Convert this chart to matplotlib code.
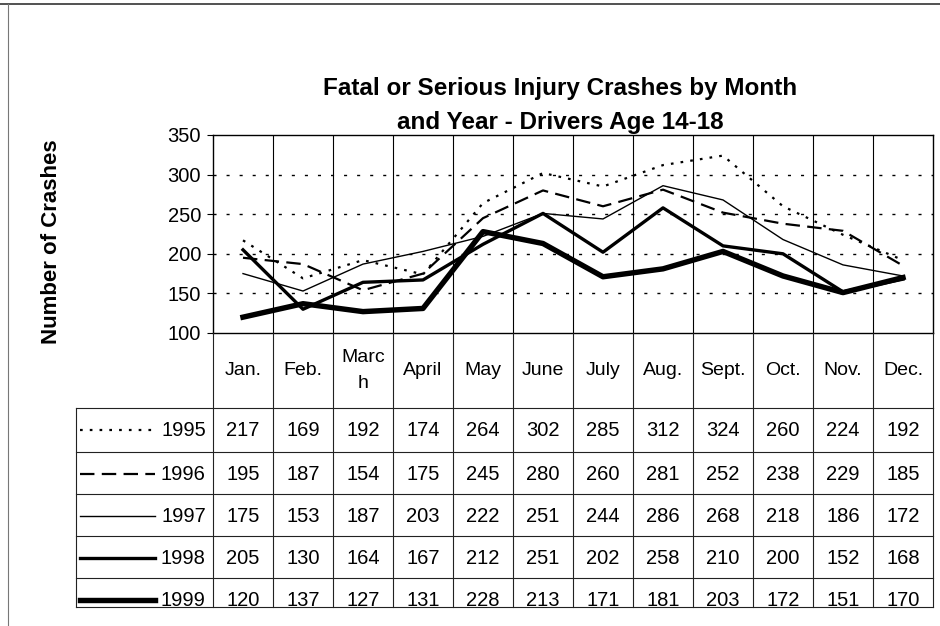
import matplotlib
matplotlib.use("Agg")
import matplotlib.pyplot as plt
from matplotlib.lines import Line2D

plt.rcParams['font.family'] = ['Liberation Sans', 'DejaVu Sans']

months = ['Jan.', 'Feb.', 'Marc\nh', 'April', 'May', 'June', 'July', 'Aug.',
          'Sept.', 'Oct.', 'Nov.', 'Dec.']
years = ['1995', '1996', '1997', '1998', '1999']
y1995 = [217, 169, 192, 174, 264, 302, 285, 312, 324, 260, 224, 192]
y1996 = [195, 187, 154, 175, 245, 280, 260, 281, 252, 238, 229, 185]
y1997 = [175, 153, 187, 203, 222, 251, 244, 286, 268, 218, 186, 172]
y1998 = [205, 130, 164, 167, 212, 251, 202, 258, 210, 200, 152, 168]
y1999 = [120, 137, 127, 131, 228, 213, 171, 181, 203, 172, 151, 170]
series = [y1995, y1996, y1997, y1998, y1999]
yticks = [100, 150, 200, 250, 300, 350]

# line styles per year
styles = [
    dict(lw=1.6, ls=(0, (1.2, 3.2))),
    dict(lw=1.6, ls=(0, (6.5, 3.3))),
    dict(lw=1.0, ls='-'),
    dict(lw=2.4, ls='-'),
    dict(lw=3.9, ls='-'),
]

W, H = 940, 626
fig = plt.figure(figsize=(W / 100, H / 100), dpi=100)


def box(x0, y0, x1, y1):
    # pixel box (top-left origin) -> figure fraction rect
    return [x0 / W, 1 - y1 / H, (x1 - x0) / W, (y1 - y0) / H]


n = len(months)
xs = [i + 0.5 for i in range(n)]

# ---- line chart ----
ax = fig.add_axes(box(213, 135, 933, 333))
ax.set_xlim(0, n)
ax.set_ylim(100, 350)
for i in range(1, n):
    ax.axvline(i, color='black', lw=0.8, zorder=1)
for v in yticks[1:-1]:
    ax.axhline(v, color='black', lw=1.0, ls=(0, (2.2, 7.2)), zorder=1)
for vals, st in zip(series, styles):
    ax.plot(xs, vals, color='black', lw=st['lw'], ls=st['ls'],
            solid_joinstyle='round', zorder=3)
ax.set_xticks([])
ax.set_yticks(yticks)
ax.tick_params(axis='y', direction='out', length=4.5, width=0.8,
               labelsize=14.5, pad=4)
for s in ax.spines.values():
    s.set_linewidth(1.0)

# ---- category row + data table ----
lab_w = (213 - 76) / 60.0
tab = fig.add_axes(box(76, 333, 933, 607))
tab.set_xlim(-lab_w, n)
tab.set_ylim(607 - 333, 0)
tab.axis('off')

row_edges = [408, 452, 494, 536, 578, 607]
row_edges = [r - 333 for r in row_edges]
lc = '#222222'

# category row
for i in range(n + 1):
    tab.plot([i, i], [0, row_edges[0]], color=lc, lw=0.8, clip_on=False)
for i, m in enumerate(months):
    tab.text(i + 0.5, row_edges[0] / 2, m, ha='center', va='center',
             fontsize=14, linespacing=1.65)

# table grid
for r in row_edges:
    tab.plot([-lab_w, n], [r, r], color=lc, lw=0.8, clip_on=False)
for xv in [-lab_w] + list(range(n + 1)):
    tab.plot([xv, xv], [row_edges[0], row_edges[-1]], color=lc, lw=0.8,
             clip_on=False)

for k, (yr, vals, st) in enumerate(zip(years, series, styles)):
    top = row_edges[k]
    yc = top + 22
    tab.plot([-lab_w + 4 / 60, -lab_w + 79 / 60], [yc, yc], color='black',
             lw=st['lw'], ls=st['ls'], clip_on=True)
    tab.text(-0.12, yc, yr, ha='right', va='center', fontsize=14.5,
             clip_on=True)
    for i, v in enumerate(vals):
        tab.text(i + 0.5, yc, str(v), ha='center', va='center',
                 fontsize=14.5, clip_on=True)

# ---- titles ----
fig.text(560 / W, 1 - 88 / H, 'Fatal or Serious Injury Crashes by Month',
         ha='center', va='center', fontsize=17.5, fontweight='bold')
fig.text(560 / W, 1 - 122 / H, 'and Year - Drivers Age 14-18',
         ha='center', va='center', fontsize=17.5, fontweight='bold')
fig.text(52 / W, 1 - 242 / H, 'Number of Crashes', rotation=90,
         ha='center', va='center', fontsize=16, fontweight='bold')

# outer frame (top and left edges visible in the scan)
fig.add_artist(Line2D([0, 1], [1 - 4 / H, 1 - 4 / H], color='#333333',
                      lw=1.2, transform=fig.transFigure))
fig.add_artist(Line2D([8 / W, 8 / W], [0, 1 - 4 / H], color='#777777',
                      lw=0.8, transform=fig.transFigure))

fig.savefig('out.png', dpi=100)
